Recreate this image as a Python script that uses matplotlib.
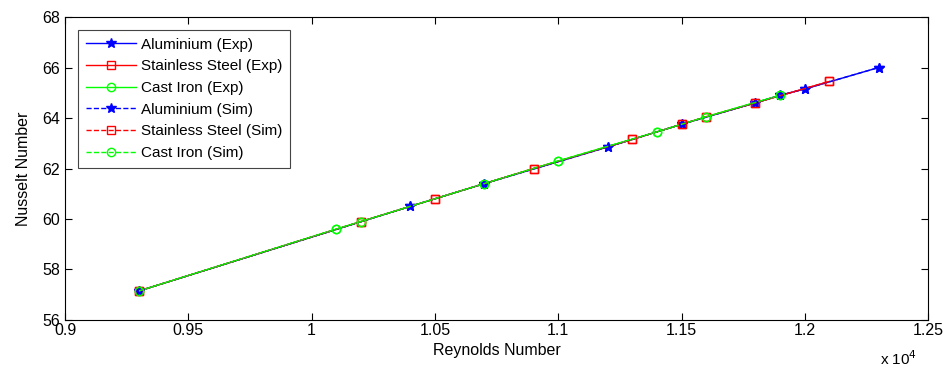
import matplotlib
matplotlib.use("Agg")
import matplotlib.pyplot as plt
from matplotlib.ticker import FuncFormatter, MultipleLocator

plt.rcParams['font.family'] = ['Liberation Sans', 'DejaVu Sans']

# Reynolds number (x 10^4) and Nusselt number
al_re = [0.93, 1.04, 1.07, 1.12, 1.15, 1.18, 1.19, 1.20, 1.23]
al_nu = [57.15, 60.5, 61.4, 62.85, 63.75, 64.6, 64.9, 65.15, 66.0]
ss_re = [0.93, 1.02, 1.05, 1.09, 1.13, 1.15, 1.16, 1.18, 1.21]
ss_nu = [57.15, 59.9, 60.8, 62.0, 63.15, 63.75, 64.05, 64.6, 65.45]
ci_re = [0.93, 1.01, 1.02, 1.07, 1.10, 1.14, 1.16, 1.19]
ci_nu = [57.15, 59.6, 59.9, 61.4, 62.3, 63.45, 64.05, 64.9]

fig = plt.figure(figsize=(9.48, 3.74), dpi=100)
ax = fig.add_axes([0.0686, 0.1444, 0.9104, 0.8101])

ms = 6
ax.plot(al_re, al_nu, '-', color='blue', marker='*', ms=7.5, lw=1, label='Aluminium (Exp)')
ax.plot(ss_re, ss_nu, '-', color='red', marker='s', ms=ms, mfc='none', lw=1, label='Stainless Steel (Exp)')
ax.plot(ci_re, ci_nu, '-', color='#00ff00', marker='o', ms=ms, mfc='none', lw=1, label='Cast Iron (Exp)')
ax.plot(al_re, al_nu, '--', color='blue', marker='*', ms=7.5, lw=1, label='Aluminium (Sim)')
ax.plot(ss_re, ss_nu, '--', color='red', marker='s', ms=ms, mfc='none', lw=1, label='Stainless Steel (Sim)')
ax.plot(ci_re, ci_nu, '--', color='#00ff00', marker='o', ms=ms, mfc='none', lw=1, label='Cast Iron (Sim)')

ax.set_xlim(0.9, 1.25)
ax.set_ylim(56, 68)
ax.xaxis.set_major_locator(MultipleLocator(0.05))
ax.yaxis.set_major_locator(MultipleLocator(2))
ax.xaxis.set_major_formatter(FuncFormatter(lambda v, p: '%g' % round(v, 3)))
ax.tick_params(direction='in', top=True, right=True, labelsize=11.5, length=5)
ax.tick_params(axis='x', pad=2)
ax.set_xlabel('Reynolds Number', fontsize=11.5, labelpad=4)
ax.set_ylabel('Nusselt Number', fontsize=11.5, labelpad=8)
fig.text(0.928, 0.015, r'x 10$^4$', fontsize=11, ha='left', va='bottom')

leg = ax.legend(loc='upper left', bbox_to_anchor=(0.015, 0.957), fontsize=11,
                fancybox=False, framealpha=1, edgecolor='#444444',
                handlelength=3.3, labelspacing=0.5, borderpad=0.5, handletextpad=0.35,
                borderaxespad=0)
leg.get_frame().set_linewidth(0.8)

fig.savefig('out.png', dpi=100)
